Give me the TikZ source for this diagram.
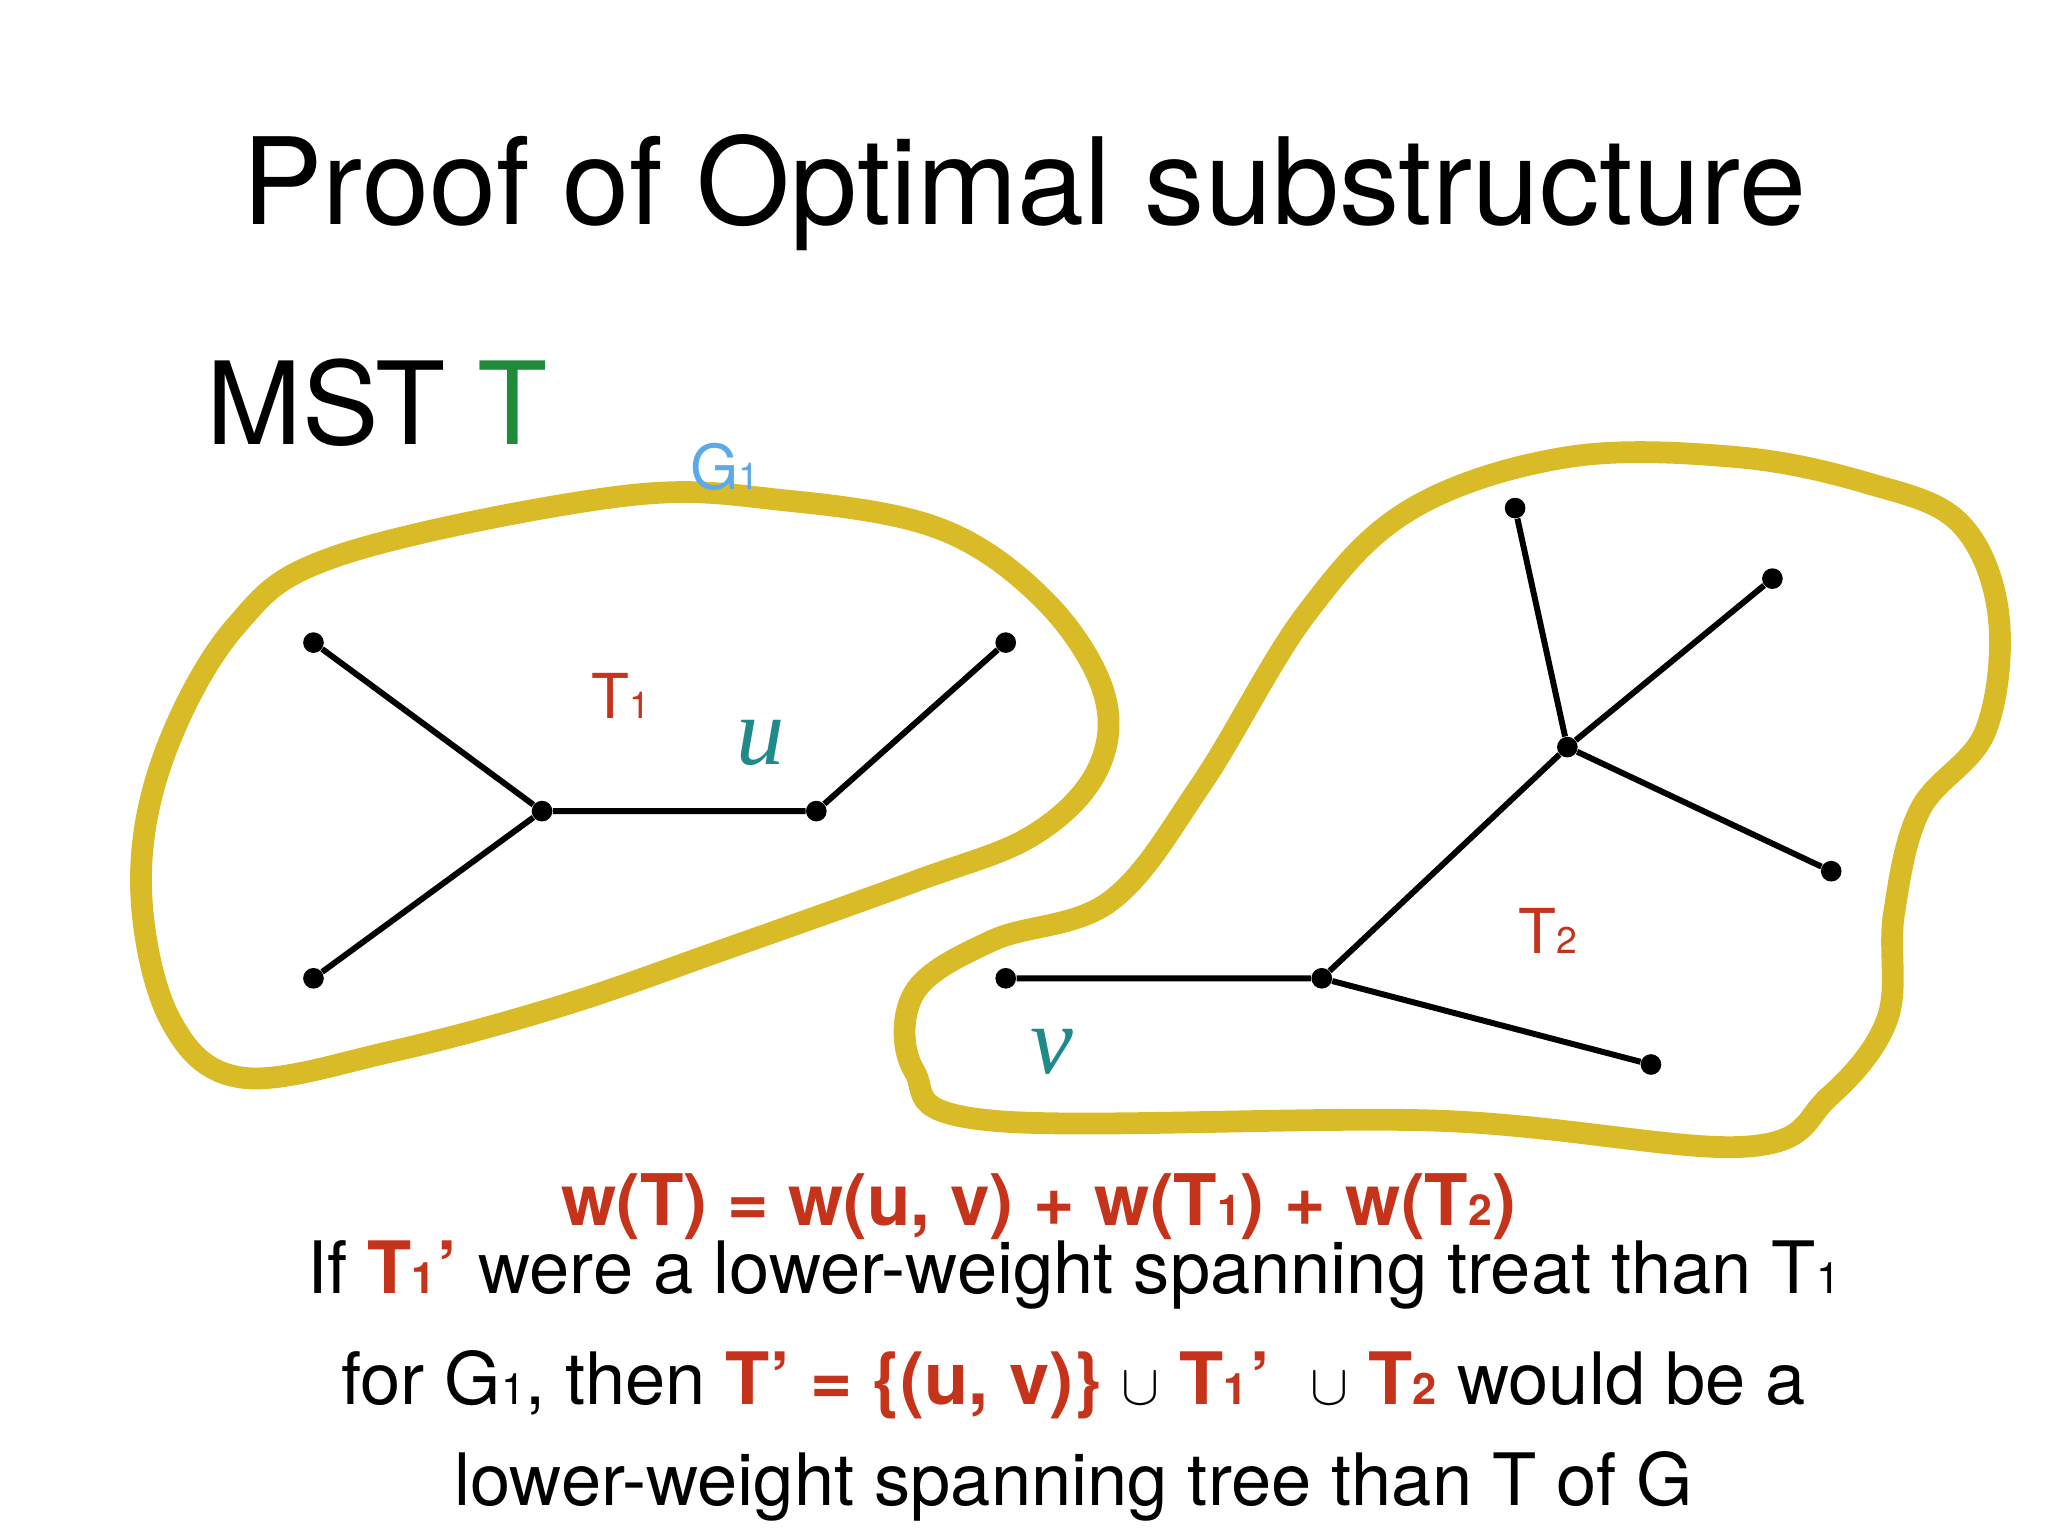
\documentclass[tikz,border=0pt]{standalone}
\usepackage{fontspec}
\setmainfont{TeX Gyre Heros}
\newfontfamily\serifit{Liberation Serif}
\definecolor{myred}{HTML}{C4331A}
\definecolor{myteal}{HTML}{1F8A88}
\definecolor{mygreen}{HTML}{1E8A3A}
\definecolor{myblue}{HTML}{5BA9E8}
\definecolor{myyel}{HTML}{D9BB28}
\newcommand{\sbs}[1]{\scalebox{0.6}{#1}}
\tikzset{vtx/.style={circle,fill=black,inner sep=0pt,minimum size=9pt},
 edge/.style={line width=2.6pt},
 blob/.style={myyel,line width=9.5pt},
 lbl/.style={inner sep=0pt,anchor=base}}
\begin{document}
\begin{tikzpicture}[x=0.02cm,y=-0.02cm]
\useasboundingbox (0,0) rectangle (1568,1176);
\node[lbl] (title) at (784,172) {\fontsize{52.5}{62}\selectfont Proof of Optimal substructure};
\node[lbl,anchor=base west] (mst) at (158,340) {\fontsize{50}{60}\selectfont MST \textcolor{mygreen}{T}};
\draw[blob] plot[smooth cycle,tension=0.6] coordinates {(185,825) (130,780) (108,680) (125,580) (180,480) (260,425) (475,380) (600,383) (720,405) (800,460) (845,530) (840,590) (790,640) (700,675) (560,725) (430,770) (300,805)};
\draw[blob] plot[smooth cycle,tension=0.6] coordinates {(1335,878) (1100,858) (760,858) (700,820) (700,760) (760,720) (850,690) (920,600) (1000,470) (1080,390) (1200,350) (1330,350) (1430,370) (1500,400) (1530,470) (1520,560) (1470,620) (1450,700) (1445,780) (1400,840)};
\node[vtx] (a1) at (240,492) {};
\node[vtx] (a2) at (415,621) {};
\node[vtx] (a3) at (240,749) {};
\node[vtx] (a4) at (625,621) {};
\node[vtx] (a5) at (770,492) {};
\draw[edge] (a1)--(a2) (a3)--(a2) (a2)--(a4) (a4)--(a5);
\node[vtx] (b1) at (1160,389) {};
\node[vtx] (b2) at (1200,572) {};
\node[vtx] (b3) at (1357,443) {};
\node[vtx] (b4) at (1402,667) {};
\node[vtx] (b5) at (1012,749) {};
\node[vtx] (b6) at (770,749) {};
\node[vtx] (b7) at (1264,815) {};
\draw[edge] (b1)--(b2) (b3)--(b2) (b2)--(b4) (b2)--(b5) (b6)--(b5) (b5)--(b7);
\node[lbl,myblue] (g1) at (555,375) {\fontsize{27}{30}\selectfont G\sbs{1}};
\node[lbl,myred] (t1) at (475,550) {\fontsize{27}{30}\selectfont T\sbs{1}};
\node[lbl,myteal] (u) at (582,585) {\fontsize{42}{44}\selectfont\serifit\itshape u};
\node[lbl,myred] (t2) at (1185,730) {\fontsize{27}{30}\selectfont T\sbs{2}};
\node[lbl,myteal] (v) at (805,822) {\fontsize{42}{44}\selectfont\serifit\itshape v};
\node[lbl,myred] (eq) at (795,938) {\fontsize{31}{34}\selectfont\bfseries w(T) = w(u, v) + w(T\sbs{1}) + w(T\sbs{2})};
\node[lbl] (l1) at (822,990) {\fontsize{31.5}{34}\selectfont If \textcolor{myred}{\bfseries T\sbs{1}\kern1pt'} were a lower-weight spanning treat than T\sbs{1}};
\node[lbl] (l2) at (822,1075) {\fontsize{31.5}{34}\selectfont for G\sbs{1}, then \textcolor{myred}{\bfseries T' = \{(u, v)\}} $\cup$ \textcolor{myred}{\bfseries T\sbs{1}\kern1pt'} \ $\cup$ \textcolor{myred}{\bfseries T\sbs{2}} would be a};
\node[lbl] (l3) at (822,1153) {\fontsize{31.5}{34}\selectfont lower-weight spanning tree than T of G};
\end{tikzpicture}
\end{document}
